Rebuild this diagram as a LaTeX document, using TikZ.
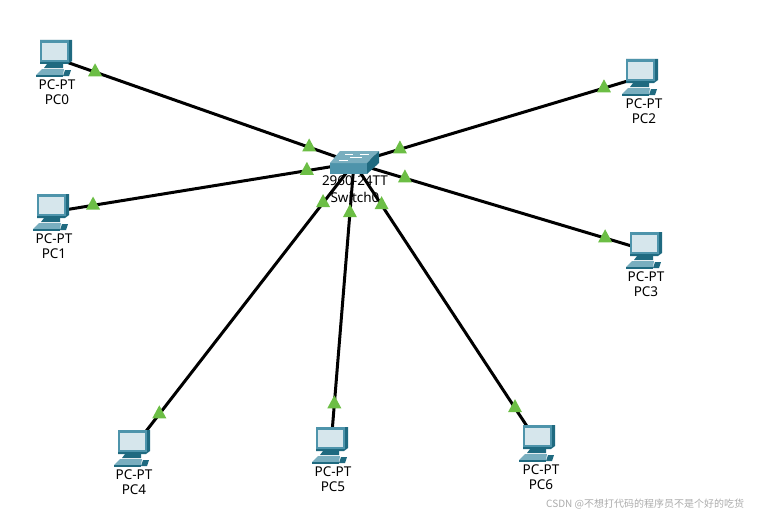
\documentclass[tikz,border=0pt]{standalone}
\usepackage{fontspec}
\setmainfont{Noto Sans}
\newfontfamily\cjkfont{Noto Sans CJK SC}
\usetikzlibrary{backgrounds,shapes.geometric}
\definecolor{pkteal}{HTML}{4E94AB}
\definecolor{pktealk}{HTML}{1F6A80}
\definecolor{pktealm}{HTML}{79AEBF}
\definecolor{pkscreen}{HTML}{D6E6EC}
\definecolor{pkgreen}{HTML}{6CBE45}
\definecolor{pkmark}{HTML}{ABABAB}
\tikzset{
  x=1pt, y=-1pt,
  pcbox/.style   = {minimum width=36pt, minimum height=36pt, inner sep=0pt},
  swbox/.style   = {minimum width=50pt, minimum height=24pt, inner sep=0pt},
  lbl/.style     = {font=\fontsize{13.5}{15}\selectfont, inner sep=0pt, text=black},
  wmark/.style   = {font=\fontsize{10}{12}\selectfont\cjkfont, inner sep=0pt,
                    text=pkmark, anchor=west},
  link/.style    = {draw=black, line width=3pt},
  updot/.style   = {isosceles triangle, isosceles triangle apex angle=64,
                    isosceles triangle stretches, shape border rotate=90,
                    fill=pkgreen, inner sep=0pt,
                    minimum height=13pt, minimum width=14pt},
  pcicon/.pic    = {
    % monitor
    \fill[pktealk] (-15,-18) -- (17,-18) -- (17,3) -- (13,6) -- (-15,6) -- cycle;
    \fill[pkteal] (-15,-18) -- (14,-18) -- (14,4) -- (-15,4) -- cycle;
    \fill[pkscreen] (-13,-15) -- (12,-15) -- (12,2) -- (-13,2) -- cycle;
    % stand and keyboard
    \fill[pktealk] (-8,6) -- (8,6) -- (8,10) -- (-11,10) -- cycle;
    \fill[pktealm] (-13,11) -- (9,11) -- (8,17) -- (-19,17) -- cycle;
    \fill[pktealk] (-19,17) -- (8,17) -- (8,19) -- (-19,19) -- cycle;
    \fill[pktealk] (10,12) -- (16,12) -- (14,18) -- (8,18) -- cycle;
  },
  swicon/.pic    = {
    \fill[pkteal] (-24,0) -- (13,0) -- (13,11) -- (-24,11) -- cycle;
    \fill[pktealm] (-24,0) -- (-14,-12) -- (25,-12) -- (13,0) -- cycle;
    \fill[pktealk] (13,0) -- (25,-12) -- (25,0) -- (13,11) -- cycle;
    % arrows on the lid
    \draw[white, line width=0.6pt] (-9,-9) -- (-1,-9) (6,-9) -- (15,-9)
      (-4,-6) -- (8,-6) (-15,-3) -- (-6,-3);
  },
}
\begin{document}
\begin{tikzpicture}
  \useasboundingbox (0,0) rectangle (757,519);

  % ---------- computers -------------------------------------------------
  \foreach \name/\num/\px/\py/\lx in {pc0/PC0/55/58/57, pc1/PC1/52/212/54,
      pc2/PC2/641/77/644, pc3/PC3/645/250/646, pc4/PC4/133/448/134,
      pc5/PC5/331/445/333, pc6/PC6/538/443/541} {
    \node[pcbox] (\name) at (\px,\py) {};
    \pic at (\name.center) {pcicon};
    \node[lbl] (\name t) at (\lx,\py+26.5) {PC-PT};
    \node[lbl] (\name n) at (\lx,\py+41.5) {\num};
  }

  % ---------- switch ----------------------------------------------------
  \node[swbox] (sw) at (354,163) {};
  \pic at (sw.center) {swicon};
  \node[lbl] (swt) at (355,181) {2960-24TT};
  \node[lbl] (swn) at (355,197) {Switch0};

  % watermark
  \node[wmark] (mark) at (546,504) {CSDN @不想打代码的程序员不是个好的吃货};

  % ---------- connectors ------------------------------------------------
  \begin{scope}[on background layer]
    \draw[link] (pc0.center) -- node[updot, pos=0.134] (a0) {}
      node[updot, pos=0.85] (b0) {} (sw.center);
    \draw[link] (pc1.center) -- node[updot, pos=0.136] (a1) {}
      node[updot, pos=0.844] (b1) {} (sw.center);
    \draw[link] (pc2.center) -- node[updot, pos=0.129] (a2) {}
      node[updot, pos=0.84] (b2) {} (sw.center);
    \draw[link] (pc3.center) -- node[updot, pos=0.137] (a3) {}
      node[updot, pos=0.825] (b3) {} (sw.center);
    \draw[link] (pc4.center) -- node[updot, pos=0.119] (a4) {}
      node[updot, pos=0.86] (b4) {} (sw.center);
    \draw[link] (pc5.center) -- node[updot, pos=0.145] (a5) {}
      node[updot, pos=0.823] (b5) {} (sw.center);
    \draw[link] (pc6.center) -- node[updot, pos=0.125] (a6) {}
      node[updot, pos=0.85] (b6) {} (sw.center);
  \end{scope}

\end{tikzpicture}
\end{document}
